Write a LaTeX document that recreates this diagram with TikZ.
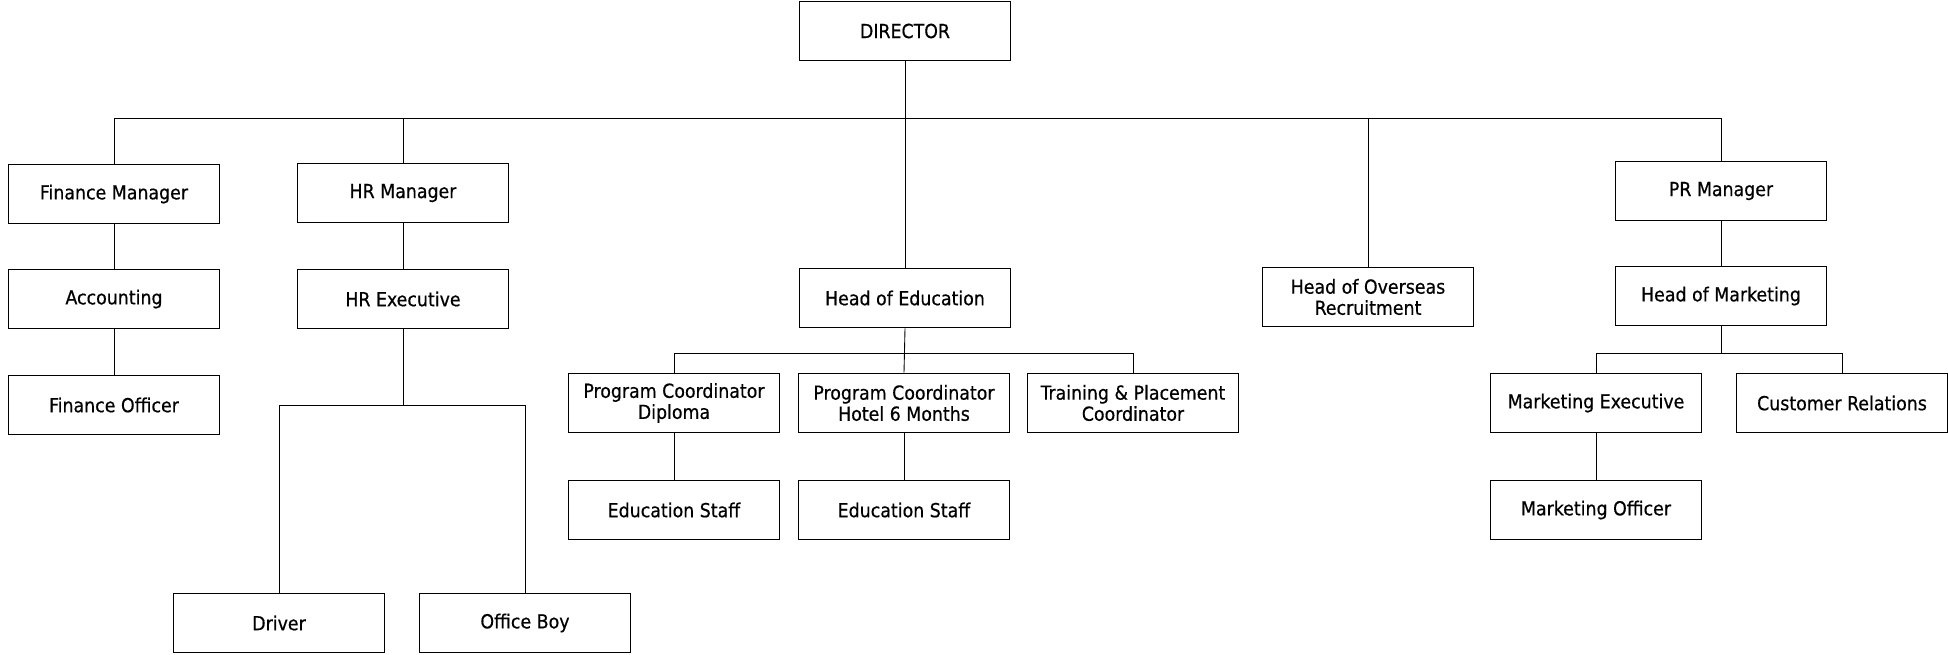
\documentclass[tikz,border=0pt]{standalone}
\usepackage{fontspec}
\setmainfont{DejaVu Sans Condensed}[FakeBold=0.5]
\usetikzlibrary{positioning}
\tikzset{post/.style={draw, line width=1pt, minimum width=4.22cm, minimum height=1.18cm,
    align=center, inner sep=2pt, font=\fontsize{11}{12}\selectfont},
  link/.style={line width=0.5pt}}

\begin{document}
\begin{tikzpicture}[x=0.02cm,y=-0.02cm]
\useasboundingbox (0,0) rectangle (1948,654);
% top level
\node[post] (director) at (905,31) {DIRECTOR};
\coordinate (bus) at (905,118);
\node[post] (fin) at (114,194) {Finance Manager};
\node[post] (hr) at (403,193) {HR Manager};
\node[post] (heded) at (905,298) {Head of Education};
\node[post] (overseas) at (1368,297) {Head of Overseas\\Recruitment};
\node[post] (pr) at (1721,191) {PR Manager};
% finance and hr
\node[post] (acc) at (114,299) {Accounting};
\node[post] (finoff) at (114,405) {Finance Officer};
\node[post] (hrexe) at (403,299) {HR Executive};
\node[post] (driver) at (279,623) {Driver};
\node[post] (officeboy) at (525,623) {Office Boy};
% education
\node[post] (pcd) at (674,403) {Program Coordinator\\Diploma};
\node[post] (pch) at (904,403) {Program Coordinator\\Hotel 6 Months};
\node[post] (tpc) at (1133,403) {Training \& Placement\\Coordinator};
\node[post] (edu1) at (674,510) {Education Staff};
\node[post] (edu2) at (904,510) {Education Staff};
% marketing
\node[post] (headmkt) at (1721,296) {Head of Marketing};
\node[post] (mktexe) at (1596,403) {Marketing Executive};
\node[post] (custrel) at (1842,403) {Customer Relations};
\node[post] (mktoff) at (1596,510) {Marketing Officer};

% connectors
\draw[link] (director.south) -- (heded.north);
\draw[link] (fin.north) |- (bus) -| (pr.north);
\draw[link] (hr.north) |- (bus);
\draw[link] (overseas.north) |- (bus);
\draw[link] (fin) -- (acc) -- (finoff);
\draw[link] (hr) -- (hrexe);
\draw[link] (hrexe.south) -- ++(0,76) coordinate (hrbus);
\draw[link] (driver.north) |- (hrbus) -| (officeboy.north);
\coordinate (edubus) at (905,353);
\draw[link] (heded.south) -- (pch.north);
\draw[link] (pcd.north) |- (edubus) -| (tpc.north);
\draw[link] (pcd) -- (edu1);
\draw[link] (pch) -- (edu2);
\draw[link] (pr) -- (headmkt);
\draw[link] (headmkt.south) -- ++(0,27) coordinate (mktbus);
\draw[link] (mktexe.north) |- (mktbus) -| (custrel.north);
\draw[link] (mktexe) -- (mktoff);
\end{tikzpicture}
\end{document}
